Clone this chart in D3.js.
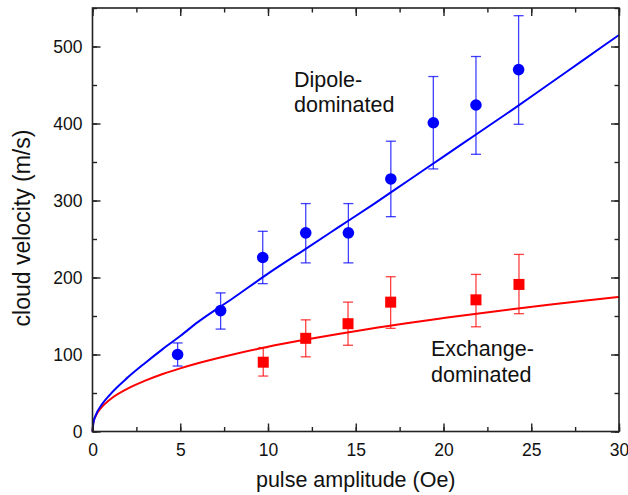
<!DOCTYPE html>
<html>
<head>
<meta charset="utf-8">
<script src="https://cdn.jsdelivr.net/npm/d3@7"></script>
<style>
  html, body { margin: 0; padding: 0; background: #fff; }
  svg { display: block; }
  text { font-family: "Liberation Sans", Arial, sans-serif; fill: #111; }
</style>
</head>
<body>
<svg id="chart" width="628" height="495"></svg>
<script>
// ---- data ----
const xTicks = [0, 5, 10, 15, 20, 25, 30];
const yTicks = [0, 100, 200, 300, 400, 500];

// Dipole-dominated (blue circles)
const dipoleX    = [4.85, 7.3, 9.7, 12.15, 14.58, 17.0, 19.42, 21.85, 24.28];
const dipoleY    = [100, 157, 226, 258, 258, 328, 401, 424, 470];
const dipoleLow  = [85, 133, 192, 219, 219, 279, 341, 360, 399];
const dipoleHigh = [115, 180, 260, 296, 296, 377, 461, 487, 540];

// Exchange-dominated (red squares)
const exchX    = [9.73, 12.15, 14.56, 16.99, 21.85, 24.3];
const exchY    = [90, 121, 140, 168, 171, 191];
const exchLow  = [72, 97, 112, 134, 136, 153];
const exchHigh = [109, 145, 168, 201, 204, 230];

// fitted curves
const curveX      = [0, 0.05, 0.2, 0.5, 1, 2, 3, 4, 5, 6, 8, 10, 12, 14, 16, 18, 20, 22, 24, 26, 28, 30];
const dipoleCurve = [0, 11, 22, 34, 48, 70, 89, 107, 124, 142, 173, 205, 235, 265, 295, 326, 357, 388, 419, 451, 483, 515];
const exchCurve   = [0, 11.8, 21, 31, 41.6, 55.7, 66, 74.7, 82, 88.6, 100, 110, 118.7, 126.7, 134, 141, 147.3, 153.3, 159, 164.5, 169.7, 174.7];

// ---- drawing ----
const svg = d3.select("#chart");
const x = d3.scaleLinear().domain([0, 30]).range([92.5, 619]);
const y = d3.scaleLinear().domain([0, 550]).range([431.5, 8]);

const blue = "#0000ff", red = "#ff0000";

// curves
const line = d3.line().x(d => x(d[0])).y(d => y(d[1])).curve(d3.curveMonotoneX);
svg.append("path").datum(curveX.map((v, i) => [v, exchCurve[i]]))
  .attr("d", line).attr("fill", "none").attr("stroke", red).attr("stroke-width", 2);
svg.append("path").datum(curveX.map((v, i) => [v, dipoleCurve[i]]))
  .attr("d", line).attr("fill", "none").attr("stroke", blue).attr("stroke-width", 2);

// error bars
function errorBars(xs, lo, hi, color) {
  const g = svg.append("g").attr("stroke", color).attr("stroke-width", 1.3).attr("stroke-opacity", 0.75);
  xs.forEach((xv, i) => {
    const cx = x(xv);
    g.append("line").attr("x1", cx).attr("x2", cx).attr("y1", y(lo[i])).attr("y2", y(hi[i]));
    g.append("line").attr("x1", cx - 5).attr("x2", cx + 5).attr("y1", y(lo[i])).attr("y2", y(lo[i]));
    g.append("line").attr("x1", cx - 5).attr("x2", cx + 5).attr("y1", y(hi[i])).attr("y2", y(hi[i]));
  });
}
errorBars(exchX, exchLow, exchHigh, red);
errorBars(dipoleX, dipoleLow, dipoleHigh, blue);

// markers
svg.append("g").selectAll("rect").data(exchX).join("rect")
  .attr("x", (d) => x(d) - 5.5).attr("y", (d, i) => y(exchY[i]) - 5.5)
  .attr("width", 11).attr("height", 11).attr("fill", red);
svg.append("g").selectAll("circle").data(dipoleX).join("circle")
  .attr("cx", d => x(d)).attr("cy", (d, i) => y(dipoleY[i])).attr("r", 5.8).attr("fill", blue);

// axes (inward ticks on all four sides)
const axisColor = "#222";
const xMinor = d3.range(0, 31, 2.5);
const yMinor = d3.range(0, 551, 50);
function styleAxis(g) {
  g.select(".domain").remove();
  g.selectAll(".tick line").attr("stroke", axisColor).attr("stroke-width", 1.4);
  g.selectAll("text").attr("font-size", "17.5px").attr("fill", "#111")
    .attr("font-family", '"Liberation Sans", Arial, sans-serif');
}
// bottom
svg.append("g").attr("transform", `translate(0,${y(0)})`)
  .call(d3.axisBottom(x).tickValues(xMinor).tickSize(-4.5).tickFormat(""))
  .call(styleAxis);
svg.append("g").attr("transform", `translate(0,${y(0)})`)
  .call(d3.axisBottom(x).tickValues(xTicks).tickSize(-8).tickPadding(12).tickFormat(d3.format("d")))
  .call(styleAxis);
// top
svg.append("g").attr("transform", `translate(0,${y(550)})`)
  .call(d3.axisTop(x).tickValues(xMinor).tickSize(-4.5).tickFormat(""))
  .call(styleAxis);
svg.append("g").attr("transform", `translate(0,${y(550)})`)
  .call(d3.axisTop(x).tickValues(xTicks).tickSize(-8).tickFormat(""))
  .call(styleAxis);
// left
svg.append("g").attr("transform", `translate(${x(0)},0)`)
  .call(d3.axisLeft(y).tickValues(yMinor).tickSize(-4.5).tickFormat(""))
  .call(styleAxis);
svg.append("g").attr("transform", `translate(${x(0)},0)`)
  .call(d3.axisLeft(y).tickValues(yTicks).tickSize(-8).tickPadding(10).tickFormat(d3.format("d")))
  .call(styleAxis);
// right
svg.append("g").attr("transform", `translate(${x(30)},0)`)
  .call(d3.axisRight(y).tickValues(yMinor).tickSize(-4.5).tickFormat(""))
  .call(styleAxis);
svg.append("g").attr("transform", `translate(${x(30)},0)`)
  .call(d3.axisRight(y).tickValues(yTicks).tickSize(-8).tickFormat(""))
  .call(styleAxis);

// frame
svg.append("rect").attr("x", x(0)).attr("y", y(550))
  .attr("width", x(30) - x(0)).attr("height", y(0) - y(550))
  .attr("fill", "none").attr("stroke", axisColor).attr("stroke-width", 1.6);

// axis titles
svg.append("text").attr("x", (x(0) + x(30)) / 2).attr("y", 487)
  .attr("text-anchor", "middle").attr("font-size", "21.5px").text("pulse amplitude (Oe)");
svg.append("text").attr("transform", `translate(30,228) rotate(-90)`)
  .attr("text-anchor", "middle").attr("font-size", "23px").text("cloud velocity (m/s)");

// annotations
const ann1 = svg.append("text").attr("font-size", "21.5px");
ann1.append("tspan").attr("x", 294).attr("y", 87).text("Dipole-");
ann1.append("tspan").attr("x", 294).attr("y", 112).text("dominated");
const ann2 = svg.append("text").attr("font-size", "21.5px");
ann2.append("tspan").attr("x", 431).attr("y", 356).text("Exchange-");
ann2.append("tspan").attr("x", 431).attr("y", 382).text("dominated");
</script>
</body>
</html>
